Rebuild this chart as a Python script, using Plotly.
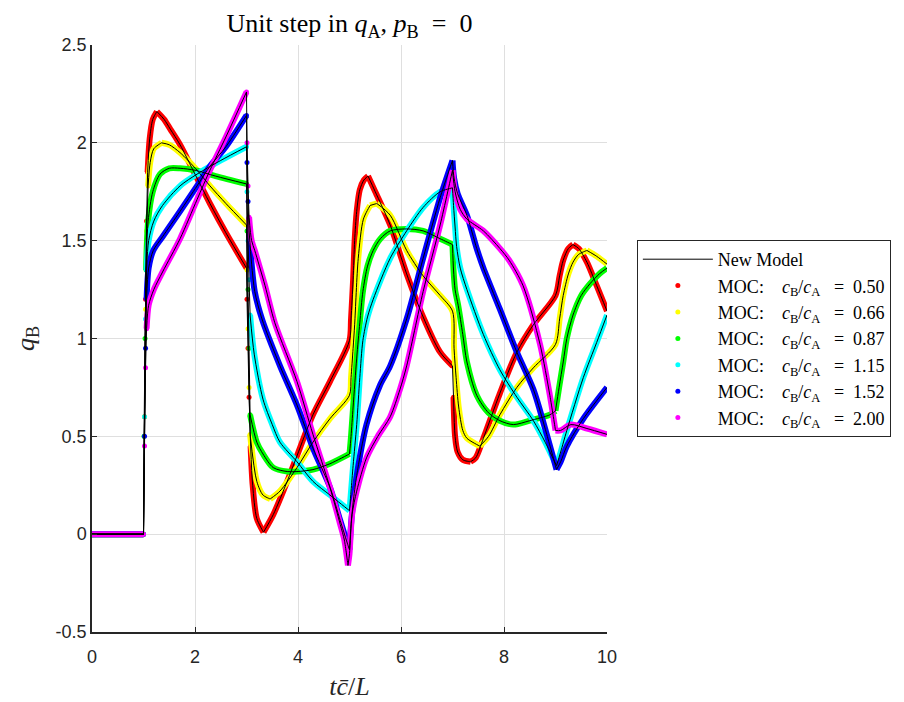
import math
import plotly.graph_objects as go

# ---------------- data ----------------
ratio_labels = ["0.50", "0.66", "0.87", "1.15", "1.52", "2.00"]

t_050 = [0, 1.0, 1.02, 1.04, 1.06, 1.08, 1.12, 1.18, 1.26, 1.4, 1.52, 1.71, 2.0, 2.29, 2.6, 3.0,
         3.01, 3.03, 3.05, 3.08, 3.12, 3.2, 3.33, 3.52, 3.79, 3.98, 4.29, 4.62, 5.0,
         5.03, 5.07, 5.1, 5.14, 5.2, 5.28, 5.36, 5.5, 5.79, 6.11, 6.43, 6.76, 7.0,
         7.02, 7.05, 7.1, 7.2, 7.35, 7.45, 7.6, 7.92, 8.25, 8.57, 9.0,
         9.08, 9.15, 9.25, 9.34, 9.45, 9.61, 9.8, 10]
q_050 = [0, 0, 0.6, 1.2, 1.6, 1.85, 2.02, 2.12, 2.16, 2.12, 2.07, 1.99, 1.84, 1.69, 1.54, 1.36,
         1.2, 0.95, 0.7, 0.45, 0.25, 0.08, 0.01, 0.1, 0.27, 0.4, 0.61, 0.78, 0.99,
         1.1, 1.3, 1.5, 1.65, 1.76, 1.81, 1.83, 1.75, 1.58, 1.33, 1.11, 0.93, 0.86,
         0.7, 0.5, 0.42, 0.38, 0.37, 0.39, 0.49, 0.72, 0.93, 1.07, 1.22,
         1.32, 1.4, 1.46, 1.48, 1.46, 1.39, 1.27, 1.14]

t_066 = [0, 1.0, 1.02, 1.04, 1.06, 1.09, 1.13, 1.2, 1.35, 1.5, 1.71, 2.04, 2.29, 2.6, 3.0,
         3.01, 3.03, 3.05, 3.07, 3.2, 3.32, 3.46, 3.65, 3.98, 4.29, 4.62, 5.0,
         5.03, 5.07, 5.1, 5.17, 5.27, 5.4, 5.53, 5.79, 6.11, 6.43, 6.76, 7.0,
         7.03, 7.07, 7.12, 7.2, 7.28, 7.53, 7.7, 7.92, 8.25, 8.57, 9.0,
         9.08, 9.15, 9.25, 9.34, 9.45, 9.61, 9.8, 10]
q_066 = [0, 0, 0.6, 1.15, 1.55, 1.78, 1.9, 1.97, 2.0, 1.99, 1.95, 1.86, 1.78, 1.69, 1.58,
         1.35, 1.05, 0.75, 0.51, 0.27, 0.2, 0.18, 0.22, 0.34, 0.47, 0.59, 0.71,
         0.8, 0.95, 1.07, 1.41, 1.61, 1.68, 1.69, 1.63, 1.45, 1.32, 1.22, 1.14,
         0.95, 0.8, 0.65, 0.53, 0.49, 0.45, 0.5, 0.61, 0.75, 0.85, 0.97,
         1.1, 1.22, 1.33, 1.39, 1.43, 1.45, 1.42, 1.38]

t_087 = [0, 1.0, 1.01, 1.03, 1.05, 1.09, 1.18, 1.32, 1.5, 1.71, 2.0, 2.4, 3.0,
         3.01, 3.03, 3.05, 3.07, 3.2, 3.32, 3.52, 3.79, 3.98, 4.29, 4.62, 5.0,
         5.03, 5.07, 5.14, 5.2, 5.26, 5.35, 5.46, 5.6, 5.79, 6.11, 6.43, 6.76, 7.0,
         7.02, 7.05, 7.11, 7.2, 7.28, 7.47, 7.7, 7.92, 8.18, 8.5, 8.89, 9.0,
         9.07, 9.15, 9.22, 9.34, 9.5, 9.67, 9.85, 10]
q_087 = [0, 0, 0.5, 1.0, 1.35, 1.6, 1.75, 1.84, 1.87, 1.87, 1.86, 1.83, 1.79,
         1.55, 1.25, 0.95, 0.61, 0.47, 0.41, 0.34, 0.32, 0.32, 0.33, 0.36, 0.41,
         0.5, 0.65, 0.9, 1.08, 1.24, 1.37, 1.45, 1.51, 1.55, 1.56, 1.55, 1.51, 1.48,
         1.35, 1.25, 1.17, 1.02, 0.88, 0.71, 0.62, 0.58, 0.56, 0.58, 0.61, 0.63,
         0.75, 0.88, 1.0, 1.12, 1.22, 1.28, 1.33, 1.36]

t_115 = [0, 1.0, 1.02, 1.04, 1.06, 1.1, 1.2, 1.37, 1.71, 2.04, 2.5, 3.0,
         3.01, 3.03, 3.05, 3.07, 3.15, 3.32, 3.5, 3.65, 3.98, 4.29, 4.62, 5.0,
         5.03, 5.07, 5.14, 5.2, 5.26, 5.35, 5.46, 5.79, 6.11, 6.43, 6.76, 7.0,
         7.02, 7.05, 7.08, 7.15, 7.28, 7.6, 7.92, 8.25, 8.57, 8.8, 9.02,
         9.1, 9.22, 9.54, 9.8, 10]
q_115 = [0, 0, 0.6, 1.1, 1.35, 1.5, 1.6, 1.68, 1.78, 1.84, 1.91, 1.98,
         1.75, 1.5, 1.3, 1.12, 0.92, 0.69, 0.56, 0.47, 0.37, 0.27, 0.2, 0.12,
         0.22, 0.35, 0.56, 0.8, 0.99, 1.11, 1.2, 1.41, 1.55, 1.67, 1.75, 1.77,
         1.68, 1.57, 1.47, 1.36, 1.25, 1.02, 0.84, 0.7, 0.58, 0.47, 0.35,
         0.42, 0.53, 0.8, 0.98, 1.12]

t_152 = [0, 1.0, 1.02, 1.04, 1.06, 1.1, 1.19, 1.37, 1.71, 2.04, 2.29, 2.6, 3.0,
         3.01, 3.03, 3.05, 3.1, 3.16, 3.3, 3.65, 3.98, 4.29, 4.62, 4.82, 4.95, 5.0,
         5.03, 5.07, 5.14, 5.33, 5.59, 5.79, 6.11, 6.43, 6.76, 7.0,
         7.03, 7.1, 7.28, 7.47, 7.6, 7.92, 8.25, 8.57, 8.83, 9.02,
         9.1, 9.22, 9.54, 10]
q_152 = [0, 0, 0.5, 0.95, 1.2, 1.36, 1.45, 1.52, 1.65, 1.78, 1.88, 1.98, 2.14,
         1.9, 1.7, 1.55, 1.38, 1.24, 1.1, 0.86, 0.66, 0.44, 0.24, 0.07, -0.04, -0.08,
         0.05, 0.16, 0.3, 0.56, 0.76, 0.86, 1.1, 1.41, 1.72, 1.91,
         1.82, 1.74, 1.63, 1.46, 1.36, 1.15, 0.93, 0.74, 0.51, 0.33,
         0.37, 0.45, 0.59, 0.75]

t_200 = [0, 1.0, 1.02, 1.04, 1.06, 1.1, 1.2, 1.37, 1.71, 2.04, 2.29, 2.6, 3.0,
         3.01, 3.03, 3.05, 3.1, 3.16, 3.36, 3.55, 3.98, 4.29, 4.62, 4.82, 4.9, 4.97,
         5.0, 5.05, 5.14, 5.33, 5.55, 5.79, 5.98, 6.11, 6.43, 6.76, 7.0,
         7.05, 7.15, 7.28, 7.6, 7.92, 8.1, 8.37, 8.7, 8.89, 9.0,
         9.1, 9.3, 9.61, 10]
q_200 = [0, 0, 0.45, 0.85, 1.05, 1.17, 1.25, 1.34, 1.51, 1.71, 1.86, 2.03, 2.26,
         2.0, 1.78, 1.62, 1.5, 1.45, 1.27, 1.08, 0.78, 0.51, 0.24, 0.05, -0.03, -0.16,
         -0.1, 0.1, 0.22, 0.39, 0.5, 0.6, 0.74, 0.86, 1.24, 1.58, 1.86,
         1.75, 1.66, 1.61, 1.55, 1.46, 1.4, 1.27, 0.97, 0.71, 0.53,
         0.53, 0.56, 0.54, 0.51]

series_t = [t_050, t_066, t_087, t_115, t_152, t_200]
series_q = [q_050, q_066, q_087, q_115, q_152, q_200]

x_ticks = [0, 2, 4, 6, 8, 10]
x_ticktext = ["0", "2", "4", "6", "8", "10"]
y_ticks = [-0.5, 0, 0.5, 1, 1.5, 2, 2.5]
y_ticktext = ["-0.5", "0", "0.5", "1", "1.5", "2", "2.5"]

# ---------------- styles ----------------
colors = ["#ff0000", "#ffff00", "#00ff00", "#00ffff", "#0000ff", "#ff00ff"]
serif = "Liberation Serif, DejaVu Serif, serif"
sans = "Liberation Sans, Arial, sans-serif"
STEEP = 7.0        # slope above which a segment is a jump (drawn as dots)
CORNER_DEG = 45.0  # direction change (in screen space) that keeps a sharp corner
PX_X, PX_Y = 51.5, 195.7  # approx screen pixels per data unit
EM, EN = "\u2003", "\u2002"


def split_series(tt, qq):
    """Return (smooth runs, steep segments) as lists of index lists."""
    n = len(tt)
    steep = []
    for k in range(n - 1):
        dt = tt[k + 1] - tt[k]
        steep.append(dt <= 0 or abs((qq[k + 1] - qq[k]) / dt) > STEEP)
    runs, cur = [], []
    for k in range(n - 1):
        if steep[k]:
            if len(cur) > 1:
                runs.append(cur)
            cur = []
            continue
        if not cur:
            cur = [k]
        else:
            a1 = math.atan2((qq[k] - qq[k - 1]) * PX_Y, (tt[k] - tt[k - 1]) * PX_X)
            a2 = math.atan2((qq[k + 1] - qq[k]) * PX_Y, (tt[k + 1] - tt[k]) * PX_X)
            d = abs(math.degrees(a2 - a1))
            d = min(d, 360 - d)
            if d > CORNER_DEG:
                runs.append(cur + [k])
                cur = [k]
        cur.append(k + 1)
    if len(cur) > 1:
        runs.append(cur)
    steep_segs = [[k, k + 1] for k in range(n - 1) if steep[k]]
    return runs, steep_segs


def join(groups, tt, qq):
    xs, ys = [], []
    for g in groups:
        xs += [tt[i] for i in g] + [None]
        ys += [qq[i] for i in g] + [None]
    return xs, ys


fig = go.Figure()

pieces = [split_series(tt, qq) for tt, qq in zip(series_t, series_q)]

for i, (tt, qq) in enumerate(zip(series_t, series_q)):
    runs, steep_segs = pieces[i]
    lx, ly = join(runs, tt, qq)
    fig.add_trace(go.Scatter(x=lx, y=ly, mode="lines",
                             line=dict(color=colors[i], width=6, shape="spline", smoothing=0.8),
                             showlegend=False, hoverinfo="skip"))
    idx = sorted({j for s in steep_segs for j in s})
    fig.add_trace(go.Scatter(x=[tt[j] for j in idx], y=[qq[j] for j in idx], mode="markers",
                             marker=dict(color=colors[i], size=5),
                             name="MOC:" + EM + "<i>c</i><sub>B</sub>/<i>c</i><sub>A</sub>"
                                  + EN + " =" + EN + ratio_labels[i],
                             legendrank=10 + i))

for i, (tt, qq) in enumerate(zip(series_t, series_q)):
    runs, steep_segs = pieces[i]
    sx, sy = join(runs, tt, qq)
    fig.add_trace(go.Scatter(x=sx, y=sy, mode="lines",
                             line=dict(color="black", width=1, shape="spline", smoothing=0.8),
                             name="New Model", showlegend=(i == 0), legendrank=1,
                             hoverinfo="skip"))
    jx, jy = join(steep_segs, tt, qq)
    fig.add_trace(go.Scatter(x=jx, y=jy, mode="lines",
                             line=dict(color="black", width=1),
                             showlegend=False, hoverinfo="skip"))

axis_common = dict(showline=True, linecolor="#262626", linewidth=1.5,
                   ticks="inside", ticklen=5, tickcolor="#262626",
                   showgrid=True, gridcolor="#dfdfdf", gridwidth=1,
                   zeroline=False, mirror=False, automargin=False,
                   tickfont=dict(family=sans, size=18, color="#262626"))

fig.update_xaxes(range=[0, 10], tickvals=x_ticks, ticktext=x_ticktext,
                 ticklabelstandoff=8,
                 title=dict(text="<i>t</i><i>c̄</i>/<i>L</i>",
                            font=dict(family=serif, size=26, color="#262626"),
                            standoff=10),
                 **axis_common)
fig.update_yaxes(range=[-0.5, 2.5], tickvals=y_ticks, ticktext=y_ticktext,
                 title=dict(text="<i>q</i><sub>B</sub>",
                            font=dict(family=serif, size=26, color="#262626"),
                            standoff=14),
                 **axis_common)

fig.update_layout(
    width=904, height=702,
    margin=dict(l=92, r=297, t=45, b=70),
    paper_bgcolor="white", plot_bgcolor="white",
    title=dict(text="Unit step in <i>q</i><sub>A</sub>, <i>p</i><sub>B</sub>" + EN + "=" + EN + "0",
               x=(92 + 607) / 2 / 904, xanchor="center", y=1 - 23 / 702, yanchor="middle",
               font=dict(family=serif, size=26, color="black")),
    legend=dict(x=1.058, xanchor="left", y=0.5, yanchor="middle",
                bgcolor="white", bordercolor="#262626", borderwidth=1,
                font=dict(family=serif, size=18, color="black"),
                itemwidth=70, tracegroupgap=0),
    showlegend=True,
)

fig.write_html("out.html")
